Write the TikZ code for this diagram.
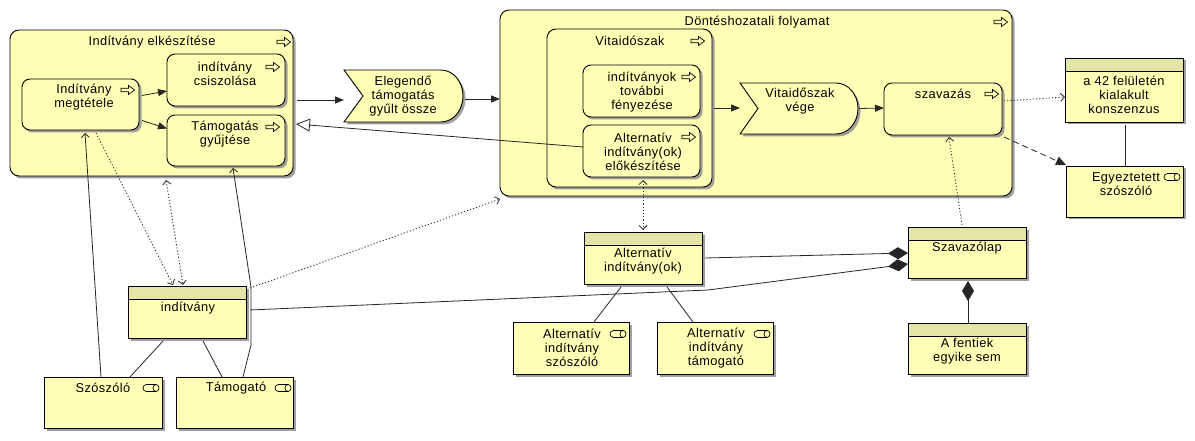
\documentclass[tikz,border=0pt]{standalone}
\usepackage{fontspec}
\setmainfont{Liberation Sans}[LetterSpace=3]
\usetikzlibrary{arrows.meta,shadows,calc}
\definecolor{bfill}{RGB}{255,255,181}
\definecolor{hfill}{RGB}{228,228,166}
\definecolor{shcol}{RGB}{150,150,150}
\tikzset{
 shd/.style={drop shadow={shadow xshift=2.5pt,shadow yshift=-2.5pt,fill=shcol,opacity=0.9}},
 elem/.style={draw=black, line width=0.9pt, fill=bfill, shd, inner sep=0pt, outer sep=0pt, anchor=north west},
 grp/.style={elem, rounded corners=9pt},
 proc/.style={elem, rounded corners=8pt},
 role/.style={elem},
 cls/.style={elem, path picture={
   \fill[hfill] (path picture bounding box.north west) rectangle ([yshift=-13pt]path picture bounding box.north east);
   \draw[line width=0.9pt] ([yshift=-13pt]path picture bounding box.north west) -- ([yshift=-13pt]path picture bounding box.north east);}},
 evst/.style={draw=black, line width=0.9pt, fill=bfill, shd, line join=miter},
 evnode/.style={inner sep=0pt, outer sep=0pt, anchor=north west},
 lbl/.style={font=\fontsize{12.8}{14}\selectfont, align=center, inner sep=0pt},
 conn/.style={line width=0.8pt, draw=black!85},
 flow/.style={conn, -{Triangle[length=9pt,width=7pt]}},
 dotpat/.style={dash pattern=on 1.2pt off 2pt},
 dotarrow/.style={conn, dotpat, -{Straight Barb[length=4pt,width=8pt]}},
 dotboth/.style={conn, dotpat, {Straight Barb[length=4pt,width=8pt]}-{Straight Barb[length=4pt,width=8pt]}},
 dasharrow/.style={conn, dash pattern=on 6pt off 4pt, -{Triangle[length=10pt,width=9pt]}},
 spec/.style={conn, -{Triangle[open,length=14pt,width=13pt,fill=white]}},
 comp/.style={conn, -{Diamond[length=20pt,width=12pt]}},
 compstart/.style={conn, {Diamond[length=20pt,width=12pt]}-},
 openarrow/.style={conn, -{Straight Barb[length=4pt,width=8pt]}},
 procicon/.pic={\draw[line width=0.7pt, fill=bfill, line join=miter] (-7,-1.8) -- (0.5,-1.8) -- (0.5,-4.5) -- (6.5,0) -- (0.5,4.5) -- (0.5,1.8) -- (-7,1.8) -- cycle;},
 roleicon/.pic={\draw[line width=0.7pt] (5,-3.5) -- (-4.5,-3.5) arc[start angle=270,end angle=90,radius=3.5] -- (5,3.5);
   \draw[line width=0.7pt] (5,0) ellipse[x radius=3,y radius=3.5];}
}
\begin{document}
\begin{tikzpicture}[x=1pt,y=-1pt]
\useasboundingbox (0,0) rectangle (1195,441);
% groups
\node[grp, minimum width=283pt, minimum height=146pt] (grpA) at (10,30) {};
\node[grp, minimum width=512pt, minimum height=186pt] (grpD) at (500,10) {};
\node[grp, minimum width=165pt, minimum height=158pt] (vita) at (547,29) {};
% processes
\node[proc, minimum width=117pt, minimum height=51pt] (megt) at (22,79) {};
\node[proc, minimum width=118pt, minimum height=52pt] (csisz) at (167,54) {};
\node[proc, minimum width=118pt, minimum height=51pt] (tamgy) at (167,115) {};
\node[proc, minimum width=117pt, minimum height=52pt] (feny) at (583,65) {};
\node[proc, minimum width=117pt, minimum height=52pt] (altel) at (583,125) {};
\node[proc, minimum width=118pt, minimum height=52pt] (szav) at (884,83) {};
% events
\draw[evst] (344,70) -- (441,70) arc[start angle=270,end angle=450,x radius=22,y radius=26] -- (344,122) -- (363,96) -- cycle;
\node[evnode, minimum width=119pt, minimum height=52pt] (ev1) at (344,70) {};
\draw[evst] (740,83) -- (836,83) arc[start angle=270,end angle=450,x radius=22,y radius=25.5] -- (740,134) -- (758,108.5) -- cycle;
\node[evnode, minimum width=118pt, minimum height=51pt] (ev2) at (740,83) {};
% classes and roles
\node[cls, minimum width=118pt, minimum height=64pt] (konsz) at (1065,58) {};
\node[role, minimum width=117pt, minimum height=51pt] (egyez) at (1066,166) {};
\node[cls, minimum width=118pt, minimum height=52pt] (altind) at (584,232) {};
\node[cls, minimum width=118pt, minimum height=51pt] (szlap) at (908,227) {};
\node[cls, minimum width=118pt, minimum height=51pt] (fentiek) at (908,323) {};
\node[cls, minimum width=118pt, minimum height=52pt] (indit) at (128,286) {};
\node[role, minimum width=118pt, minimum height=51pt] (szoszolo) at (44,377) {};
\node[role, minimum width=117pt, minimum height=51pt] (tamogato) at (176,377) {};
\node[role, minimum width=116pt, minimum height=52pt] (altszo) at (513,322) {};
\node[role, minimum width=116pt, minimum height=52pt] (alttam) at (657,322) {};
% icons
\pic at (284,42) {procicon};
\pic at (1001,22) {procicon};
\pic at (698,41) {procicon};
\pic at (128,90) {procicon};
\pic at (273,67) {procicon};
\pic at (273,127) {procicon};
\pic at (689,77) {procicon};
\pic at (689,137) {procicon};
\pic at (992,94) {procicon};
\pic at (1172,177) {roleicon};
\pic at (151,388) {roleicon};
\pic at (283,388) {roleicon};
\pic at (618,334) {roleicon};
\pic at (762,334) {roleicon};
% labels
\node[lbl] (tA) at (152,42) {Indítvány elkészítése};
\node[lbl] (tmegt) at (84,97) {Indítvány\\megtétele};
\node[lbl] (tcsisz) at (225,74) {indítvány\\csiszolása};
\node[lbl] (ttamgy) at (225,134) {Támogatás\\gyűjtése};
\node[lbl] (tev1) at (403,96.5) {Elegendő\\támogatás\\gyűlt össze};
\node[lbl] (tD) at (757,22) {Döntéshozatali folyamat};
\node[lbl] (tvita) at (630,41) {Vitaidószak};
\node[lbl] (tfeny) at (642,92) {indítványok\\további\\fényezése};
\node[lbl] (taltel) at (643,151.5) {Alternatív\\indítvány(ok)\\előkészítése};
\node[lbl] (tev2) at (800,101.5) {Vitaidőszak\\vége};
\node[lbl] (tszav) at (943,94) {szavazás};
\node[lbl] (tkonsz) at (1124,95) {a 42 felületén\\kialakult\\konszenzus};
\node[lbl] (tegyez) at (1126,184.5) {Egyeztetett\\szószóló};
\node[lbl] (taltind) at (643,261.5) {Alternatív\\indítvány(ok)};
\node[lbl] (tszlap) at (967,248) {Szavazólap};
\node[lbl] (tfent) at (967,351) {A fentiek\\egyike sem};
\node[lbl] (tindit) at (188,308) {indítvány};
\node[lbl] (tszo) at (103,388) {Szószóló};
\node[lbl] (ttam) at (236,388) {Támogató};
\node[lbl] (taltszo) at (572,348) {Alternatív\\indítvány\\szószóló};
\node[lbl] (talttam) at (716,348) {Alternatív\\indítvány\\támogató};
% connectors
\draw[flow] ($(megt.east)+(3,-9)$) -- ($(csisz.west)+(0,11)$);
\draw[flow] ($(megt.east)+(3,16)$) -- ($(tamgy.west)+(0,-12)$);
\draw[flow] ($(grpA.east)+(4,-3)$) -- ($(ev1.west)+(0,4)$);
\draw[flow] ($(ev1.east)+(2,3)$) -- ($(grpD.west)+(0,-4)$);
\draw[flow] ($(vita.east)+(2,0)$) -- ($(ev2.west)+(0,-0.5)$);
\draw[flow] ($(ev2.east)+(1,0)$) -- ($(szav.west)+(0,-1)$);
\draw[dotarrow] ($(szav.east)+(2,-8)$) -- ($(konsz.west)+(0,7)$);
\draw[dasharrow] ($(szav.south east)+(2,2)$) -- ($(egyez.north west)+(0,-1)$);
\draw[conn] ($(konsz.south)+(1,3)$) -- ($(konsz.south |- egyez.north)+(1,0)$);
\draw[spec] ($(altel.west)+(0,-4)$) -- ($(grpA.east)+(3,21)$);
\draw[dotboth] ($(altel.south)+(1.5,3)$) -- ($(altel.south |- altind.north)+(1.5,-2)$);
\draw[dotarrow] ($(szlap.north)+(-5,-2)$) -- ($(szav.south)+(6,2)$);
\draw[comp] ($(altind.east)+(3,0)$) -- ($(szlap.west)+(0,0.5)$);
\coordinate (bend1) at (708,290);
\draw[comp] ($(indit.east)+(4,-2)$) -- (bend1) -- ($(szlap.west)+(0,11.5)$);
\draw[compstart] ($(szlap.south)+(1,3)$) -- ($(fentiek.north)+(1,0)$);
\draw[conn] ($(indit.south west)+(35,3)$) -- ($(szoszolo.north west)+(86,0)$);
\draw[conn] ($(indit.south west)+(75,3)$) -- ($(tamogato.north west)+(46,0)$);
\draw[conn] ($(altind.south west)+(37,3)$) -- ($(altszo.north west)+(81,0)$);
\draw[conn] ($(altind.south west)+(83,3)$) -- ($(alttam.north west)+(36,0)$);
\draw[openarrow] ($(szoszolo.north west)+(57,0)$) -- ($(megt.south)+(4.5,3)$);
\coordinate (b2) at (251,345);
\coordinate (b3) at (251,287);
\draw[openarrow] ($(tamogato.north west)+(67,0)$) -- (b2) -- (b3) -- ($(tamgy.south)+(7,2)$);
\draw[dotarrow] ($(megt.south)+(15.5,3)$) -- ($(indit.north west)+(45,-1)$);
\draw[dotboth] ($(grpA.south)+(14.5,4)$) -- ($(indit.north west)+(55,-1)$);
\draw[dotarrow] ($(indit.north east)+(4,2)$) -- ($(grpD.south west)+(0,3)$);
\end{tikzpicture}
\end{document}
